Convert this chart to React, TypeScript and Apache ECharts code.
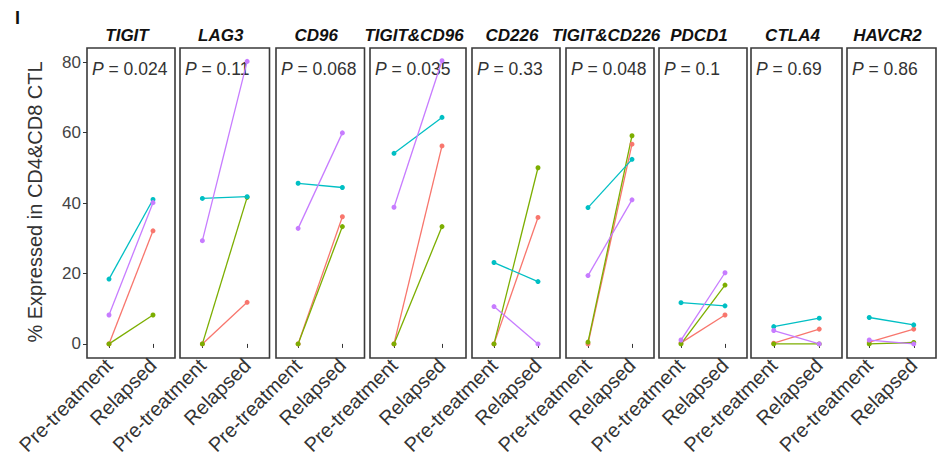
import React, { useEffect, useRef } from "react";
import * as echarts from "echarts";

const genes = ["TIGIT", "LAG3", "CD96", "TIGIT&CD96", "CD226", "TIGIT&CD226", "PDCD1", "CTLA4", "HAVCR2"];
const pValues = ["0.024", "0.11", "0.068", "0.035", "0.33", "0.048", "0.1", "0.69", "0.86"];
const stages = ["Pre-treatment", "Relapsed"];
const yTicks = [0, 20, 40, 60, 80];

const redPre = [0, 0, 0, 0, 0, 0, 0.3, 0.2, 0.5];
const redRel = [32.1, 11.8, 36.1, 56.2, 35.9, 56.7, 8.2, 4.2, 4.2];
const greenPre = [0, 0, 0, 0, 0, 0.5, 0, 0, 0];
const greenRel = [8.2, 41.6, 33.3, 33.3, 50.0, 59.1, 16.7, 0, 0.4];
const cyanPre = [18.4, 41.3, 45.6, 54.1, 23.1, 38.7, 11.7, 4.9, 7.5];
const cyanRel = [41.0, 41.8, 44.4, 64.3, 17.7, 52.4, 10.8, 7.3, 5.4];
const purplePre = [8.2, 29.3, 32.8, 38.8, 10.6, 19.4, 1.1, 3.8, 1.1];
const purpleRel = [40.1, 80.2, 59.9, 80.4, 0, 40.9, 20.2, 0, 0];

const groups = [
  { pre: redPre, rel: redRel, color: "#F8766D" },
  { pre: greenPre, rel: greenRel, color: "#7CAE00" },
  { pre: cyanPre, rel: cyanRel, color: "#00BFC4" },
  { pre: purplePre, rel: purpleRel, color: "#C77CFF" },
];

const panelLeft = [87, 180, 276, 370, 472, 566, 659, 751, 847];
const panelRight = [175, 269.5, 364.5, 466, 560, 654, 747, 842, 936];
const FONT = "Liberation Sans, Arial, sans-serif";

export default function App() {
  const ref = useRef<HTMLDivElement>(null);
  useEffect(() => {
    if (!ref.current) return;
    const chart = echarts.init(ref.current, null, { renderer: "svg" });
    const grid: any[] = [];
    const xAxis: any[] = [];
    const yAxis: any[] = [];
    const series: any[] = [];
    const graphic: any[] = [];
    genes.forEach((g, i) => {
      const left = panelLeft[i];
      const width = panelRight[i] - panelLeft[i];
      grid.push({
        left,
        top: 48,
        width,
        height: 310,
        show: true,
        borderColor: "#3a3a3a",
        borderWidth: 1.6,
        backgroundColor: "transparent",
      });
      xAxis.push({
        type: "category",
        gridIndex: i,
        data: stages,
        boundaryGap: true,
        axisLine: { show: false },
        axisTick: { show: true, alignWithLabel: true, length: 4, lineStyle: { color: "#333" } },
        axisLabel: { rotate: 45, interval: 0, fontSize: 20, color: "#333", margin: 4, fontFamily: FONT },
        splitLine: { show: false },
      });
      yAxis.push({
        type: "value",
        gridIndex: i,
        min: -4,
        max: 84,
        splitLine: { show: false },
        axisLine: { show: false },
        axisTick: { show: i === 0, length: 4, customValues: yTicks, lineStyle: { color: "#333" } },
        axisLabel: { show: i === 0, customValues: yTicks, fontSize: 17, color: "#444", margin: 6, fontFamily: FONT },
      });
      groups.forEach((grp) => {
        series.push({
          type: "line",
          xAxisIndex: i,
          yAxisIndex: i,
          data: [grp.pre[i], grp.rel[i]],
          symbol: "circle",
          symbolSize: 5,
          showSymbol: true,
          lineStyle: { width: 1.3, color: grp.color },
          itemStyle: { color: grp.color },
          silent: true,
        });
      });
      graphic.push({
        type: "text",
        x: left + width / 2 - 4,
        y: 35,
        style: {
          text: g,
          align: "center",
          verticalAlign: "middle",
          font: `italic bold 17px ${FONT}`,
          fill: "#111",
        },
      });
      graphic.push({
        type: "text",
        x: left + 5,
        y: 69,
        style: {
          text: `{i|P} = ${pValues[i]}`,
          verticalAlign: "middle",
          font: `17.5px ${FONT}`,
          fill: "#333",
          rich: {
            i: { fontStyle: "italic", fontSize: 17.5, fontFamily: FONT, fill: "#333" },
          },
        },
      });
    });
    graphic.push({
      type: "text",
      x: 35,
      y: 202,
      rotation: Math.PI / 2,
      style: {
        text: "% Expressed in CD4&CD8 CTL",
        align: "center",
        verticalAlign: "middle",
        font: `20px ${FONT}`,
        fill: "#333",
      },
    });
    graphic.push({
      type: "text",
      x: 15,
      y: 18,
      style: { text: "I", align: "left", verticalAlign: "middle", font: `bold 18px ${FONT}`, fill: "#111" },
    });
    chart.setOption({
      animation: false,
      backgroundColor: "#fff",
      grid,
      xAxis,
      yAxis,
      series,
      graphic,
    });
    return () => chart.dispose();
  }, []);
  return <div ref={ref} style={{ position: "fixed", left: 0, top: 0, width: 947, height: 469 }} />;
}
